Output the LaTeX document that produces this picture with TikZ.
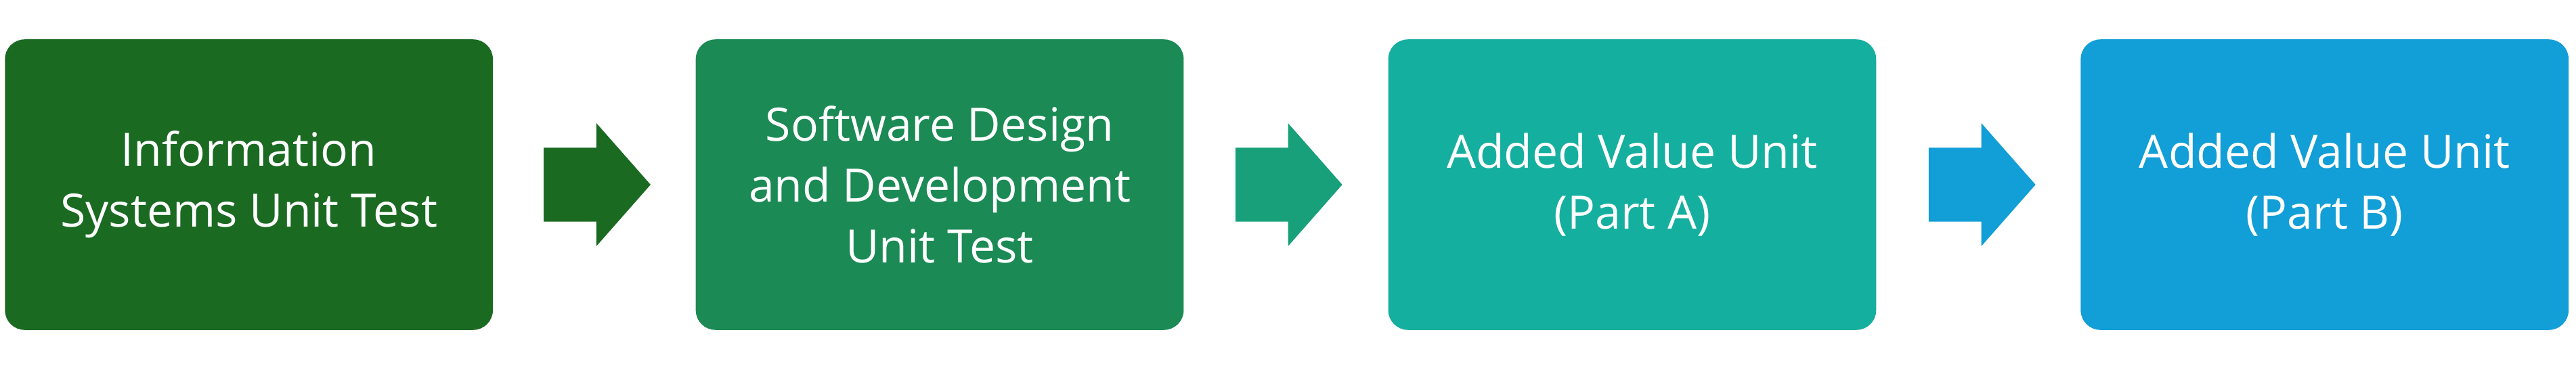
\documentclass[tikz,border=0pt]{standalone}
\usepackage{fontspec}
\setmainfont{Open Sans}
\begin{document}
\begin{tikzpicture}[x=0.5pt,y=-0.5pt,
  box/.style={rounded corners=6pt,draw=none,text=white,align=center,font=\fontsize{14}{18.5}\selectfont,minimum width=148.5pt,minimum height=88.5pt,inner sep=0pt}]
\definecolor{c1}{HTML}{1B6A22}
\definecolor{c2}{HTML}{1B8A55}
\definecolor{c3}{HTML}{15AF9F}
\definecolor{c4}{HTML}{129ED7}
\definecolor{a2}{HTML}{18A07A}
\useasboundingbox (0,0) rectangle (1568,225);
\node[box,fill=c1] (b1) at (151.5,112.5) {Information\\Systems Unit Test};
\node[box,fill=c2] (b2) at (572,112.5) {Software Design\\and Development\\Unit Test};
\node[box,fill=c3] (b3) at (993.5,112.5) {Added Value Unit\\(Part A)};
\node[box,fill=c4] (b4) at (1415,112.5) {Added Value Unit\\(Part B)};
\foreach \x/\c in {331/c1,752/a2,1174/c4}{
  \fill[\c] (\x,90) -- (\x+32,90) -- (\x+32,75) -- (\x+65,112.5) -- (\x+32,150) -- (\x+32,135) -- (\x,135) -- cycle;
}
\end{tikzpicture}
\end{document}
